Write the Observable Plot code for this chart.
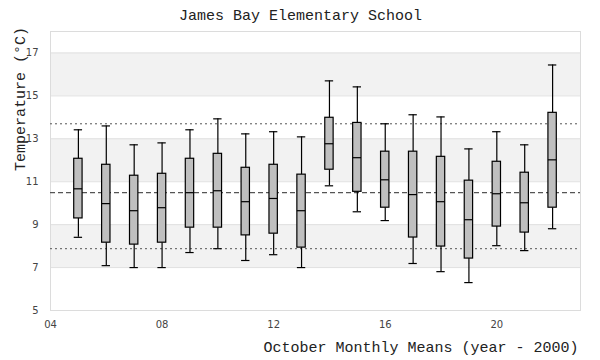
<!DOCTYPE html>
<html>
<head>
<meta charset="utf-8">
<script src="https://cdn.jsdelivr.net/npm/d3@7"></script>
<script src="https://cdn.jsdelivr.net/npm/@observablehq/plot@0.6"></script>
<style>
  html, body { margin: 0; padding: 0; background: #fff; }
  #chart svg { display: block; }
</style>
</head>
<body>
<div id="chart"></div>
<script>
const years      = [5, 6, 7, 8, 9, 10, 11, 12, 13, 14, 15, 16, 17, 18, 19, 20, 21, 22];
const whiskerLow = [8.41, 7.09, 7.00, 7.00, 7.70, 7.88, 7.33, 7.60, 7.00, 10.81, 9.60, 9.19, 7.19, 6.81, 6.30, 8.02, 7.79, 8.81];
const q1         = [9.29, 8.16, 8.07, 8.16, 8.86, 8.86, 8.50, 8.58, 7.93, 11.56, 10.53, 9.79, 8.40, 7.98, 7.42, 8.91, 8.63, 9.79];
const medians    = [10.67, 9.98, 9.65, 9.79, 10.49, 10.58, 10.07, 10.22, 9.65, 12.77, 12.12, 11.09, 10.40, 10.07, 9.23, 10.44, 10.02, 12.02];
const q3         = [12.07, 11.79, 11.28, 11.37, 12.07, 12.30, 11.65, 11.79, 11.33, 13.98, 13.74, 12.40, 12.40, 12.16, 11.05, 11.93, 11.42, 14.21];
const whiskerHigh= [13.42, 13.60, 12.72, 12.81, 13.42, 13.93, 13.23, 13.33, 13.09, 15.70, 15.42, 13.70, 14.12, 14.02, 12.53, 13.33, 12.72, 16.44];

const overallMean = 10.49;
const upperRef = 13.70;
const lowerRef = 7.88;

const yTicks = [5, 7, 9, 11, 13, 15, 17];
const xTicks = [4, 8, 12, 16, 20];
const bandLow  = [15, 11, 7];
const bandHigh = [17, 13, 9];

const halfBox = 0.15;

const data = years.map((yr, i) => ({
  year: yr, lo: whiskerLow[i], q1: q1[i], med: medians[i], q3: q3[i], hi: whiskerHigh[i]
}));
const bands = bandLow.map((lo, i) => ({lo, hi: bandHigh[i]}));

const mono = "'Liberation Mono', 'DejaVu Sans Mono', monospace";

const chart = Plot.plot({
  width: 600,
  height: 360,
  marginTop: 31,
  marginBottom: 50,
  marginLeft: 50,
  marginRight: 20,
  style: {fontFamily: "'DejaVu Sans', sans-serif", fontSize: "10px", color: "#444", background: "#fff"},
  x: {domain: [4, 23]},
  y: {domain: [5, 18]},
  marks: [
    Plot.rectY(bands, {x1: 4, x2: 23, y1: "lo", y2: "hi", fill: "#f2f2f2"}),
    Plot.ruleY(yTicks, {stroke: "#e0e0e0", strokeWidth: 1}),
    Plot.frame({stroke: "#dcdcdc", strokeWidth: 1}),
    Plot.ruleY([upperRef], {stroke: "#555", strokeDasharray: "2,3", strokeWidth: 1}),
    Plot.ruleY([lowerRef], {stroke: "#555", strokeDasharray: "2,3", strokeWidth: 1}),
    Plot.ruleY([overallMean], {stroke: "#555", strokeDasharray: "5,3", strokeWidth: 1.2}),
    Plot.ruleX(data, {x: "year", y1: "lo", y2: "q1", stroke: "#000", strokeWidth: 1.2}),
    Plot.ruleX(data, {x: "year", y1: "q3", y2: "hi", stroke: "#000", strokeWidth: 1.2}),
    Plot.ruleY(data, {y: "lo", x1: d => d.year - halfBox, x2: d => d.year + halfBox, stroke: "#000", strokeWidth: 1.2}),
    Plot.ruleY(data, {y: "hi", x1: d => d.year - halfBox, x2: d => d.year + halfBox, stroke: "#000", strokeWidth: 1.2}),
    Plot.rect(data, {x1: d => d.year - halfBox, x2: d => d.year + halfBox, y1: "q1", y2: "q3", fill: "#bfbfbf", stroke: "#000", strokeWidth: 1.2}),
    Plot.ruleY(data, {y: "med", x1: d => d.year - halfBox, x2: d => d.year + halfBox, stroke: "#000", strokeWidth: 1.2}),
    Plot.axisY({ticks: yTicks, tickSize: 0, tickPadding: 12, label: null, fill: "#444", fontSize: 10}),
    Plot.axisX({ticks: xTicks, tickSize: 0, tickPadding: 10, label: null, fill: "#444", fontSize: 10,
      tickFormat: d => String(d).padStart(2, "0")}),
    Plot.text(["James Bay Elementary School"], {frameAnchor: "top", dx: -15, dy: -16, fontFamily: mono, fontSize: 15, fill: "#222", lineAnchor: "middle"}),
    Plot.text(["Temperature (°C)"], {frameAnchor: "left", dx: -30, rotate: -90, fontFamily: mono, fontSize: 15, fill: "#222", lineAnchor: "middle"}),
    Plot.text(["October Monthly Means (year - 2000)"], {frameAnchor: "bottom-right", dx: -2, dy: 37, textAnchor: "end", fontFamily: mono, fontSize: 15, fill: "#222", lineAnchor: "middle"})
  ]
});
document.getElementById("chart").appendChild(chart);
</script>
</body>
</html>
